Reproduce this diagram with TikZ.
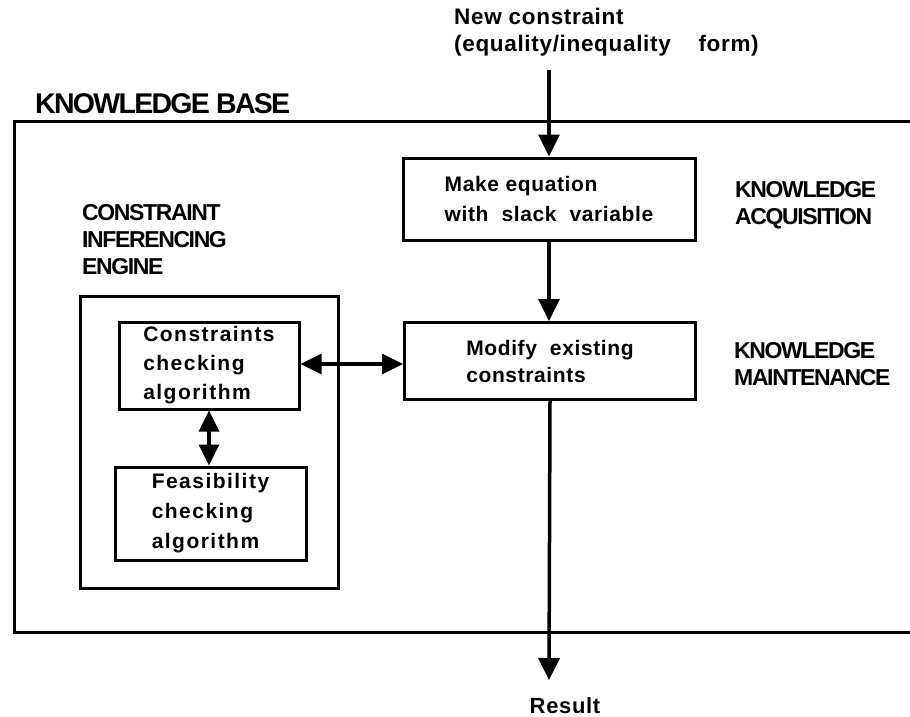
\documentclass[tikz,border=0pt]{standalone}
\usepackage{fontspec}
\setmainfont{Liberation Sans}
\newfontfamily\boxfont[LetterSpace=3]{Liberation Sans}
\newfontfamily\wideboxfont[LetterSpace=7]{Liberation Sans}
\newfontfamily\capfont[LetterSpace=-6]{Liberation Sans}
\usetikzlibrary{arrows.meta}
\tikzset{
  frame/.style={line width=3pt},
  procbox/.style={draw, line width=3pt, align=left, inner sep=0pt,
    font=\boxfont\bfseries\fontsize{21}{30}\selectfont},
  caplabel/.style={align=left, inner sep=0pt,
    font=\capfont\bfseries\fontsize{23}{27}\selectfont},
  flow/.style={line width=3.5pt, -{Triangle[width=21pt,length=22pt]}},
  both/.style={line width=3.5pt, {Triangle[width=20pt,length=21pt]}-{Triangle[width=20pt,length=21pt]}},
}
\begin{document}
\begin{tikzpicture}[x=1pt,y=-1pt]
\useasboundingbox (0,0) rectangle (910,717);

% knowledge base frame, running off the right edge
\draw[frame] (912,121) -| (14,632) -- (912,632);
\node[caplabel, font=\capfont\bfseries\fontsize{28.5}{30}\selectfont, anchor=base west]
  (kb) at (35,113) {KNOWLEDGE BASE};

% incoming constraint
\node[align=left, inner sep=0pt, anchor=north west,
  font=\boxfont\bfseries\fontsize{22.5}{27}\selectfont]
  (newc) at (454,8) {New constraint\\(equality/inequality\ \ \ \ form)};
\coordinate (in) at (549,70);

% main processing boxes
\node[procbox, minimum width=292pt, minimum height=82pt] (make) at (549,199)
  {Make equation\\with\ \ slack\ \ variable};
\node[procbox, minimum width=291pt, minimum height=77pt,
  font=\boxfont\bfseries\fontsize{21}{27}\selectfont] (modify) at (550,361)
  {Modify\ \ existing\\constraints};

\node[caplabel, anchor=north west] (acq) at (735,181) {KNOWLEDGE\\ACQUISITION};
\node[caplabel, anchor=north west] (maint) at (734,342) {KNOWLEDGE\\MAINTENANCE};

% inferencing engine
\node[caplabel, anchor=north west] (cielabel) at (82,204)
  {CONSTRAINT\\INFERENCING\\ENGINE};
\draw[frame] (80,296) rectangle (338,588);
\coordinate (engine) at (209,442);

\node[procbox, minimum width=180pt, minimum height=87pt,
  font=\wideboxfont\bfseries\fontsize{21}{29}\selectfont] (cons) at (209,365.5)
  {Constraints\\checking\\algorithm};
\node[procbox, minimum width=191pt, minimum height=93pt,
  font=\wideboxfont\bfseries\fontsize{21}{30}\selectfont] (feas) at (210.5,513.5)
  {Feasibility\\checking\\algorithm};

% result
\coordinate (out) at (549,680);
\node[inner sep=0pt, anchor=base, font=\boxfont\bfseries\fontsize{22}{25}\selectfont]
  (result) at (565,713) {Result};

% connectors
\draw[flow] (in) -- (make.north);
\draw[flow] (make.south) -- (make.south |- modify.north);
\draw[flow] (modify.south) -- (out);
\draw[both] ([yshift=1.5pt]cons.east) -- ([yshift=1.5pt]cons.east -| modify.west);
\draw[both] (cons.south) -- (cons.south |- feas.north);
\end{tikzpicture}
\end{document}
